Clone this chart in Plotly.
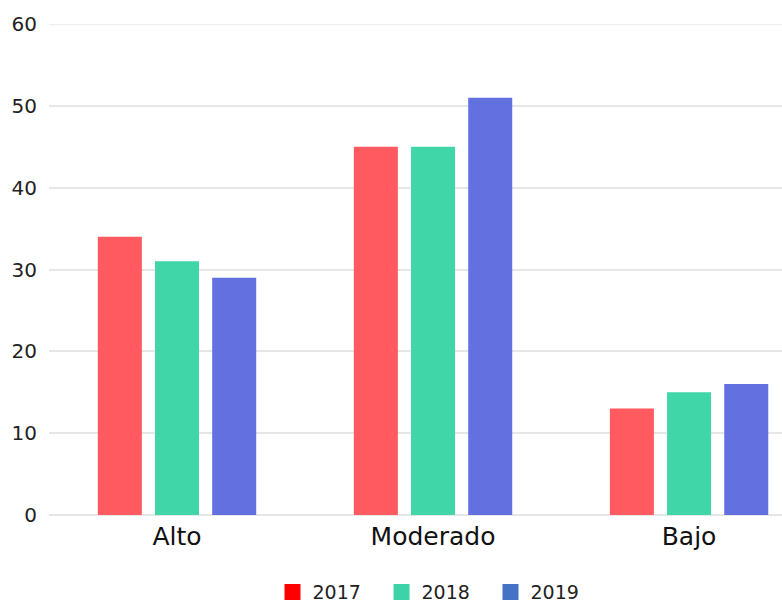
import plotly.graph_objects as go

# Risk level per year
categories = ["Alto", "Moderado", "Bajo"]
years = ["2017", "2018", "2019"]
values_2017 = [34, 45, 13]
values_2018 = [31, 45, 15]
values_2019 = [29, 51, 16]
y_ticks = [0, 10, 20, 30, 40, 50, 60]

bar_colors = ["#FF5A5F", "#40D6A8", "#6270E0"]
legend_colors = ["#FF0000", "#3DD3A8", "#4472C4"]

series = [values_2017, values_2018, values_2019]

fig = go.Figure()
for name, vals, col in zip(years, series, bar_colors):
    fig.add_trace(go.Bar(
        x=categories, y=vals, name=name,
        marker=dict(color=col, line=dict(width=0)),
        showlegend=False,
    ))

# legend entries with solid swatches
for name, col in zip(years, legend_colors):
    fig.add_trace(go.Scatter(
        x=[None], y=[None], mode="markers", name=name,
        marker=dict(symbol="square", size=17, color=col),
    ))

grid = "#E6E6E6"
fig.update_layout(
    width=782, height=603,
    margin=dict(l=49, r=0, t=24, b=88, autoexpand=False),
    paper_bgcolor="white", plot_bgcolor="white",
    font=dict(family="DejaVu Sans, sans-serif", color="#222"),
    barmode="group",
    bargap=0.33,
    bargroupgap=0.23,
    xaxis=dict(
        range=[-0.5, 2.363],
        showgrid=False, showline=False, zeroline=False,
        ticks="", ticklabelstandoff=4,
        tickfont=dict(size=25, color="#111"),
    ),
    yaxis=dict(
        range=[0, 60], tickvals=y_ticks,
        showgrid=True, gridcolor=grid, gridwidth=1.5,
        zeroline=True, zerolinecolor=grid, zerolinewidth=1.5,
        showline=False, ticks="", ticklabelstandoff=11,
        tickfont=dict(size=20, color="#222"),
    ),
    legend=dict(
        orientation="h", x=0.528, xanchor="center", y=-0.157, yanchor="middle",
        font=dict(size=19, color="#222"),
        entrywidth=64,
    ),
)

# top gridline sits on the upper edge of the value range
fig.add_shape(type="line", xref="paper", yref="y", x0=0, x1=1, y0=60, y1=60,
              line=dict(color=grid, width=1.5), layer="below")

fig.write_html("out.html")
